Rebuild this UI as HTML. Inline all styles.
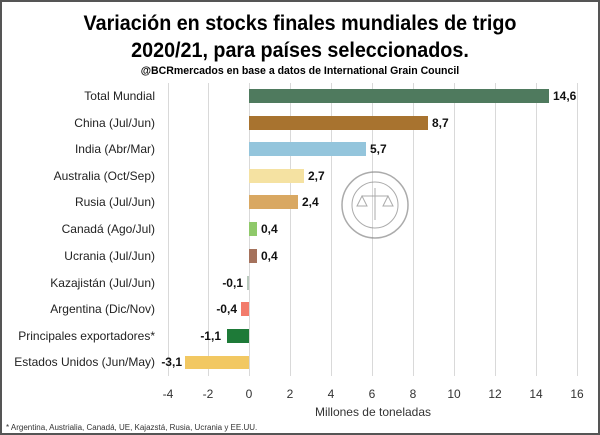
<!DOCTYPE html>
<html><head><meta charset="utf-8"><style>
body{margin:0;background:#fff}
svg{display:block}
text{font-family:"Liberation Sans",sans-serif}
</style></head><body>
<svg width="600" height="435" viewBox="0 0 600 435">
<rect x="1" y="1" width="598" height="433" fill="#fff" stroke="#555" stroke-width="2"/>
<text x="300" y="30" text-anchor="middle" font-size="21" font-weight="bold" transform="translate(300,0) scale(0.94,1) translate(-300,0)">Variación en stocks finales mundiales de trigo</text>
<text x="300" y="57" text-anchor="middle" font-size="21" font-weight="bold" transform="translate(300,0) scale(0.94,1) translate(-300,0)">2020/21, para países seleccionados.</text>
<text x="300" y="74" text-anchor="middle" font-size="11" font-weight="bold" transform="translate(300,0) scale(0.96,1) translate(-300,0)">@BCRmercados en base a datos de International Grain Council</text>
<g stroke="#d9d9d9" stroke-width="1">
<line x1="168.5" y1="83" x2="168.5" y2="376"/><line x1="208.5" y1="83" x2="208.5" y2="376"/>
<line x1="249.5" y1="83" x2="249.5" y2="376"/><line x1="290.5" y1="83" x2="290.5" y2="376"/>
<line x1="331.5" y1="83" x2="331.5" y2="376"/><line x1="372.5" y1="83" x2="372.5" y2="376"/>
<line x1="413.5" y1="83" x2="413.5" y2="376"/><line x1="454.5" y1="83" x2="454.5" y2="376"/>
<line x1="495.5" y1="83" x2="495.5" y2="376"/><line x1="536.5" y1="83" x2="536.5" y2="376"/>
<line x1="577.5" y1="83" x2="577.5" y2="376"/>
</g>
<g opacity="0.7" fill="none" stroke="#888">
<circle cx="375" cy="205" r="33" stroke-width="1.5"/>
<circle cx="375" cy="205" r="23" stroke-width="1"/>
<line x1="362" y1="196" x2="388" y2="196"/><line x1="375" y1="188" x2="375" y2="220"/>
<path d="M362 196 l-5 10 h10 z M388 196 l-5 10 h10 z"/>
</g>
<g>
<rect x="249" y="89" width="300" height="14" fill="#4f7a5e"/>
<rect x="249" y="116" width="179" height="14" fill="#a8732f"/>
<rect x="249" y="142" width="117" height="14" fill="#94c5dc"/>
<rect x="249" y="169" width="55" height="14" fill="#f5e2a2"/>
<rect x="249" y="195" width="49" height="14" fill="#d9a862"/>
<rect x="249" y="222" width="8" height="14" fill="#8fc96a"/>
<rect x="249" y="249" width="8" height="14" fill="#a5725c"/>
<rect x="247" y="276" width="2" height="14" fill="#b9c9bd"/>
<rect x="241" y="302" width="8" height="14" fill="#f27b6b"/>
<rect x="227" y="329" width="22" height="14" fill="#1e7a38"/>
<rect x="185" y="356" width="64" height="13" fill="#f2c862"/>
</g>
<g font-size="12" text-anchor="end" fill="#222">
<text x="155" y="100">Total Mundial</text>
<text x="155" y="127">China (Jul/Jun)</text>
<text x="155" y="153">India (Abr/Mar)</text>
<text x="155" y="180">Australia (Oct/Sep)</text>
<text x="155" y="206">Rusia (Jul/Jun)</text>
<text x="155" y="233">Canadá (Ago/Jul)</text>
<text x="155" y="260">Ucrania (Jul/Jun)</text>
<text x="155" y="287">Kazajistán (Jul/Jun)</text>
<text x="155" y="313">Argentina (Dic/Nov)</text>
<text x="155" y="340">Principales exportadores*</text>
<text x="155" y="366">Estados Unidos (Jun/May)</text>
</g>
<g font-size="12" font-weight="bold" fill="#111">
<text x="553" y="100">14,6</text>
<text x="432" y="127">8,7</text>
<text x="370" y="153">5,7</text>
<text x="308" y="180">2,7</text>
<text x="302" y="206">2,4</text>
<text x="261" y="233">0,4</text>
<text x="261" y="260">0,4</text>
<text x="243" y="287" text-anchor="end">-0,1</text>
<text x="237" y="313" text-anchor="end">-0,4</text>
<text x="221" y="340" text-anchor="end">-1,1</text>
<text x="182" y="366" text-anchor="end">-3,1</text>
</g>
<g font-size="12" text-anchor="middle" fill="#333">
<text x="168" y="398">-4</text><text x="208" y="398">-2</text><text x="249" y="398">0</text>
<text x="290" y="398">2</text><text x="331" y="398">4</text><text x="372" y="398">6</text>
<text x="413" y="398">8</text><text x="454" y="398">10</text><text x="495" y="398">12</text>
<text x="536" y="398">14</text><text x="577" y="398">16</text>
<text x="373" y="416">Millones de toneladas</text>
</g>
<text x="6" y="430" font-size="8" fill="#333">* Argentina, Austrialia, Canadá, UE, Kajazstá, Rusia, Ucrania y EE.UU.</text>
</svg>
</body></html>
